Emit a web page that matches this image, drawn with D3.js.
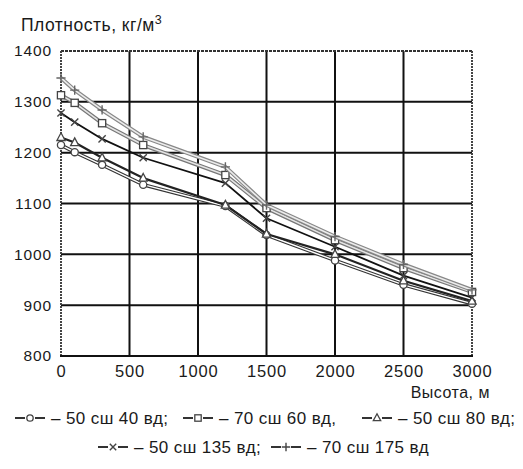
<!DOCTYPE html>
<html><head><meta charset="utf-8">
<script src="https://cdn.jsdelivr.net/npm/d3@7"></script>
<style>body{margin:0;background:#fff}svg{display:block}</style>
</head><body>
<svg id="c" width="523" height="469"></svg>
<script>
const heights = [0, 100, 300, 600, 1200, 1500, 2000, 2500, 3000];
const s50_40  = [1215, 1201, 1176, 1137, 1095, 1038, 988, 940, 903];
const s70_60  = [1313, 1298, 1258, 1215, 1156, 1091, 1028, 973, 926];
const s50_80  = [1230, 1220, 1190, 1150, 1097, 1040, 1000, 948, 908];
const s50_135 = [1278, 1260, 1227, 1190, 1140, 1071, 1015, 958, 915];
const s70_175 = [1347, 1323, 1284, 1231, 1172, 1097, 1035, 980, 930];
const seriesNames = ["50 сш 40 вд;", "70 сш 60 вд,", "50 сш 80 вд;", "50 сш 135 вд;", "70 сш 175 вд"];
const xTicks = [0, 500, 1000, 1500, 2000, 2500, 3000];
const yTicks = [800, 900, 1000, 1100, 1200, 1300, 1400];

const series = [
  {name: seriesNames[0], vals: s50_40,  mark: "circle",   outer: "#333", inner: "#fff", ow: 3.6, iw: 1.4},
  {name: seriesNames[1], vals: s70_60,  mark: "square",   outer: "#777", inner: "#e4e4e4", ow: 4, iw: 1.6},
  {name: seriesNames[2], vals: s50_80,  mark: "triangle", outer: "#222", inner: null, ow: 2.2, iw: 0},
  {name: seriesNames[3], vals: s50_135, mark: "cross",    outer: "#111", inner: null, ow: 1.8, iw: 0},
  {name: seriesNames[4], vals: s70_175, mark: "plus",     outer: "#888", inner: "#ececec", ow: 4, iw: 1.6}
];

const svg = d3.select("#c");
const L = 61, R = 472, T = 51, B = 356;
const x = d3.scaleLinear().domain([0, 3000]).range([L, R]);
const y = d3.scaleLinear().domain([800, 1400]).range([B, T]);
const font = "'Liberation Sans', Arial, sans-serif";
const ink = "#1a1a1a";

// grid
svg.append("g").selectAll("line").data(xTicks.slice(1, -1)).join("line")
  .attr("x1", d => x(d)).attr("x2", d => x(d)).attr("y1", T).attr("y2", B)
  .attr("stroke", "#111").attr("stroke-width", 2);
svg.append("g").selectAll("line").data(yTicks.slice(1, -1)).join("line")
  .attr("x1", L).attr("x2", R).attr("y1", d => y(d)).attr("y2", d => y(d))
  .attr("stroke", "#111").attr("stroke-width", 2);
// frame
svg.append("line").attr("x1", L).attr("x2", R).attr("y1", T).attr("y2", T)
  .attr("stroke", "#333").attr("stroke-width", 2).attr("stroke-dasharray", "3,1");
svg.append("line").attr("x1", L).attr("x2", L).attr("y1", T).attr("y2", B)
  .attr("stroke", "#444").attr("stroke-width", 2).attr("stroke-dasharray", "2,1");
svg.append("line").attr("x1", R).attr("x2", R).attr("y1", T).attr("y2", B)
  .attr("stroke", "#444").attr("stroke-width", 2).attr("stroke-dasharray", "2,1");
svg.append("line").attr("x1", L - 1).attr("x2", R + 1).attr("y1", B).attr("y2", B)
  .attr("stroke", "#111").attr("stroke-width", 2);

// axes labels
const yAxis = d3.axisLeft(y).tickValues(yTicks).tickSize(0).tickPadding(9).tickFormat(d3.format("d"));
const gy = svg.append("g").attr("transform", `translate(${L},0)`).call(yAxis);
gy.select(".domain").remove();
gy.selectAll("text").attr("font-family", font).attr("font-size", 15.5).attr("letter-spacing", "0.9px").attr("fill", ink);
const xAxis = d3.axisBottom(x).tickValues(xTicks).tickSize(0).tickPadding(9).tickFormat(d3.format("d"));
const gx = svg.append("g").attr("transform", `translate(0,${B})`).call(xAxis);
gx.select(".domain").remove();
gx.selectAll("text").attr("font-family", font).attr("font-size", 16.5).attr("letter-spacing", "0.8px").attr("fill", ink);

// titles
const tt = svg.append("text").attr("x", 21).attr("y", 31).attr("font-family", font).attr("font-size", 17.5).attr("letter-spacing", "0.5px").attr("fill", ink);
tt.append("tspan").text("Плотность, кг/м");
tt.append("tspan").attr("dy", -7).attr("font-size", 12.5).text("3");
svg.append("text").attr("x", 490).attr("y", 398).attr("text-anchor", "end")
  .attr("font-family", font).attr("font-size", 16).attr("letter-spacing", "0.5px").attr("fill", ink).text("Высота, м");

// marker drawing
function drawMarker(g, type, cx, cy, col, sz) {
  const s = sz || 3.6;
  if (type === "circle") g.append("circle").attr("cx", cx).attr("cy", cy).attr("r", s).attr("fill", "#fff").attr("stroke", col).attr("stroke-width", 1.3);
  else if (type === "square") g.append("rect").attr("x", cx - s).attr("y", cy - s).attr("width", 2 * s).attr("height", 2 * s).attr("fill", "#fff").attr("stroke", col).attr("stroke-width", 1.3);
  else if (type === "triangle") g.append("path").attr("d", `M${cx},${cy - s - 1}L${cx + s + 0.5},${cy + s - 0.5}L${cx - s - 0.5},${cy + s - 0.5}Z`).attr("fill", "#fff").attr("stroke", col).attr("stroke-width", 1.3);
  else if (type === "cross") g.append("path").attr("d", `M${cx - s},${cy - s}L${cx + s},${cy + s}M${cx - s},${cy + s}L${cx + s},${cy - s}`).attr("stroke", col).attr("stroke-width", 1.4);
  else if (type === "plus") g.append("path").attr("d", `M${cx - s - 1},${cy}L${cx + s + 1},${cy}M${cx},${cy - s - 1}L${cx},${cy + s + 1}`).attr("stroke", col).attr("stroke-width", 1.4);
}

const line = d3.line().x((d, i) => x(heights[i])).y(d => y(d));
const order = [0, 2, 3, 1, 4];
order.forEach(k => {
  const s = series[k];
  const g = svg.append("g");
  g.append("path").attr("d", line(s.vals)).attr("fill", "none").attr("stroke", s.outer).attr("stroke-width", s.ow).attr("stroke-linejoin", "round");
  if (s.inner) g.append("path").attr("d", line(s.vals)).attr("fill", "none").attr("stroke", s.inner).attr("stroke-width", s.iw).attr("stroke-linejoin", "round");
  s.vals.forEach((v, i) => drawMarker(g, s.mark, x(heights[i]), y(v), s.mark === "plus" ? "#666" : "#444"));
});

// legend
const legendRows = [[0, 1, 2], [3, 4]];
const legendStarts = [[15, 183, 362], [98, 271]];
const rowY = [418, 447];
legendRows.forEach((row, ri) => {
  const ly = rowY[ri];
  row.forEach((k, j) => {
    const s = series[k];
    const lx = legendStarts[ri][j];
    const g = svg.append("g");
    g.append("line").attr("x1", lx).attr("x2", lx + 10).attr("y1", ly).attr("y2", ly).attr("stroke", "#333").attr("stroke-width", 2);
    g.append("line").attr("x1", lx + 20).attr("x2", lx + 30).attr("y1", ly).attr("y2", ly).attr("stroke", "#333").attr("stroke-width", 2);
    drawMarker(g, s.mark, lx + 15, ly, "#444", 3.2);
    g.append("text").attr("x", lx + 36).attr("y", ly + 6).attr("font-family", font).attr("font-size", 17)
      .attr("letter-spacing", "0.4px").attr("fill", ink).text("– " + s.name);
  });
});
</script>
</body></html>
